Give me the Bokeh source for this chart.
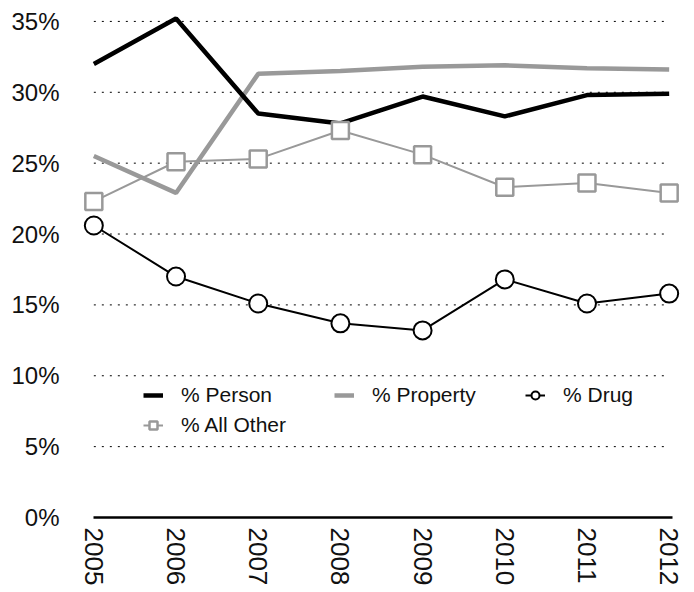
import math
from bokeh.plotting import figure
from bokeh.models import Range1d, FixedTicker, Legend, LegendItem
from bokeh.embed import file_html
from bokeh.resources import INLINE

years = [2005, 2006, 2007, 2008, 2009, 2010, 2011, 2012]
pct_person = [32.0, 35.2, 28.5, 27.8, 29.7, 28.3, 29.8, 29.9]
pct_property = [25.5, 22.9, 31.3, 31.5, 31.8, 31.9, 31.7, 31.6]
pct_drug = [20.6, 17.0, 15.1, 13.7, 13.2, 16.8, 15.1, 15.8]
pct_other = [22.3, 25.1, 25.3, 27.3, 25.6, 23.3, 23.6, 22.9]

y_ticks = [0, 5, 10, 15, 20, 25, 30, 35]
y_tick_labels = ["0%", "5%", "10%", "15%", "20%", "25%", "30%", "35%"]
x_tick_labels = [str(y) for y in years]

FONT = "Liberation Sans"
GRAY = "#999999"

p = figure(
    output_backend="svg", toolbar_location=None,
    frame_width=600, frame_height=506,
    min_border_left=81, min_border_right=5, min_border_top=11, min_border_bottom=70,
    x_range=Range1d(2004.85, 2012.15), y_range=Range1d(0, 35.7),
)
p.outline_line_color = None
p.xgrid.visible = False
p.ygrid.visible = False

# dotted grid lines spanning the data years
for t in y_ticks[1:]:
    p.segment(x0=years[0], x1=years[-1], y0=t, y1=t,
              line_color="#000000", line_width=1, line_dash="2 6")

r_prop = p.line(years, pct_property, line_color=GRAY, line_width=4.5)
r_person = p.line(years, pct_person, line_color="black", line_width=4.5)
r_other_l = p.line(years, pct_other, line_color=GRAY, line_width=2)
r_other_m = p.scatter(years, pct_other, marker="square", size=17,
                      fill_color="white", line_color=GRAY, line_width=2.5)
r_drug_l = p.line(years, pct_drug, line_color="black", line_width=2)
r_drug_m = p.scatter(years, pct_drug, marker="circle", size=18,
                     fill_color="white", line_color="black", line_width=2)

# axes
p.yaxis.ticker = FixedTicker(ticks=y_ticks)
p.yaxis.major_label_overrides = dict(zip(y_ticks, y_tick_labels))
p.yaxis.axis_line_color = None
p.yaxis.major_tick_line_color = None
p.yaxis.minor_tick_line_color = None
p.yaxis.major_tick_out = 0
p.yaxis.major_tick_in = 0
p.yaxis.major_label_standoff = 22
p.yaxis.major_label_text_font = FONT
p.yaxis.major_label_text_font_size = "24px"
p.yaxis.major_label_text_color = "#111111"

p.xaxis.ticker = FixedTicker(ticks=years)
p.xaxis.major_label_overrides = dict(zip(years, x_tick_labels))
p.xaxis.bounds = (years[0], years[-1] + 0.04)
p.xaxis.axis_line_color = "black"
p.xaxis.axis_line_width = 2.5
p.xaxis.major_tick_line_color = None
p.xaxis.minor_tick_line_color = None
p.xaxis.major_tick_out = 0
p.xaxis.major_tick_in = 0
p.xaxis.major_label_standoff = 10
p.xaxis.major_label_orientation = -math.pi / 2
p.xaxis.major_label_text_font = FONT
p.xaxis.major_label_text_font_size = "26px"
p.xaxis.major_label_text_color = "#111111"

legend = Legend(
    items=[
        LegendItem(label="% Person", renderers=[r_person]),
        LegendItem(label="% Property", renderers=[r_prop]),
        LegendItem(label="% Drug", renderers=[r_drug_l, r_drug_m]),
        LegendItem(label="% All Other", renderers=[r_other_l, r_other_m]),
    ],
    location=(62, 80), orientation="horizontal", ncols=3,
    label_text_font=FONT, label_text_font_size="21px", label_text_color="#111111",
    glyph_width=20, glyph_height=20, label_height=20, label_width=147,
    label_standoff=18, spacing=6, padding=0, margin=0,
    border_line_color=None, background_fill_alpha=0,
)
p.add_layout(legend)

open("out.html", "w").write(file_html(p, INLINE))
